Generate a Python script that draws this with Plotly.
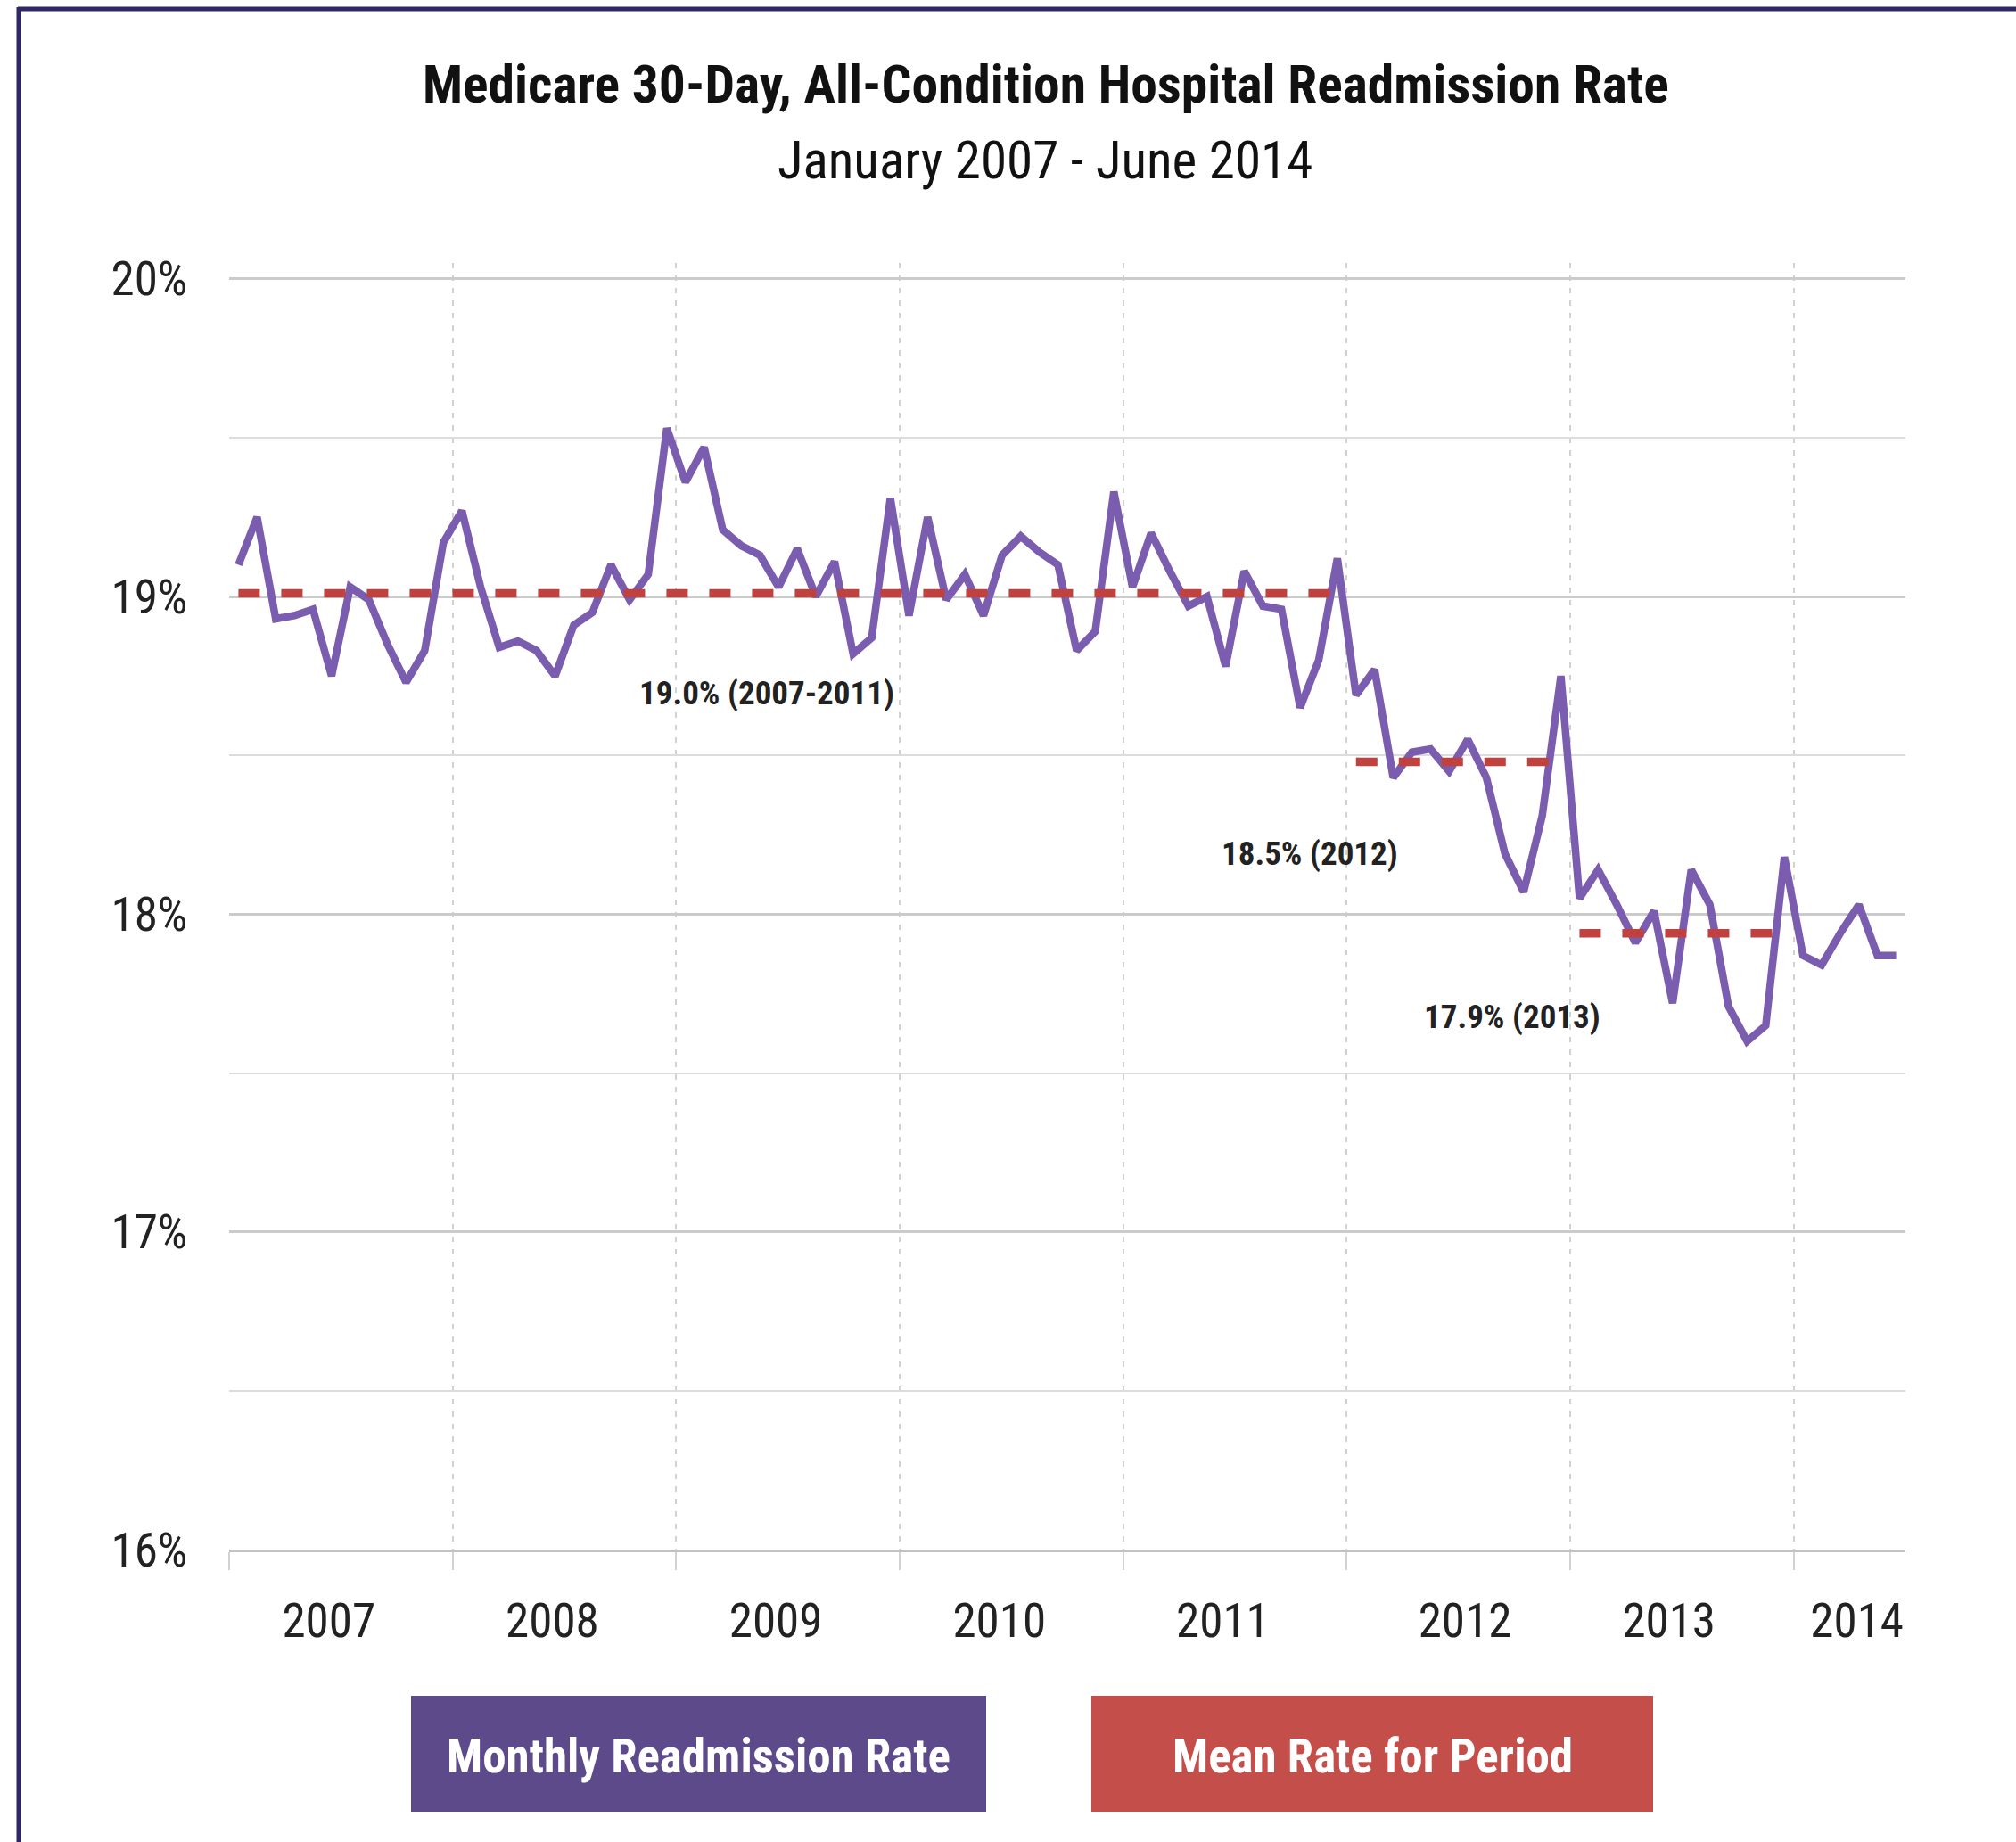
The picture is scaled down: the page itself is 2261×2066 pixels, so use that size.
import plotly.graph_objects as go

# ---------------- data ----------------
month_names = ["Jan", "Feb", "Mar", "Apr", "May", "Jun",
               "Jul", "Aug", "Sep", "Oct", "Nov", "Dec"]
years = [2007, 2008, 2009, 2010, 2011, 2012, 2013, 2014]

# Monthly 30-day all-condition readmission rate (%), Jan 2007 - Jun 2014
monthly_rate = [
    19.10, 19.25, 18.93, 18.94, 18.96, 18.75, 19.03, 18.99, 18.85, 18.73, 18.83, 19.17,  # 2007
    19.27, 19.03, 18.84, 18.86, 18.83, 18.75, 18.91, 18.95, 19.10, 18.99, 19.07, 19.53,  # 2008
    19.36, 19.47, 19.21, 19.16, 19.13, 19.03, 19.15, 19.00, 19.11, 18.82, 18.87, 19.31,  # 2009
    18.94, 19.25, 18.99, 19.07, 18.94, 19.13, 19.19, 19.14, 19.10, 18.83, 18.89, 19.33,  # 2010
    19.03, 19.20, 19.08, 18.97, 19.00, 18.78, 19.08, 18.97, 18.96, 18.65, 18.80, 19.12,  # 2011
    18.69, 18.77, 18.43, 18.51, 18.52, 18.45, 18.55, 18.43, 18.19, 18.07, 18.31, 18.75,  # 2012
    18.05, 18.14, 18.03, 17.91, 18.01, 17.72, 18.14, 18.03, 17.71, 17.60, 17.65, 18.18,  # 2013
    17.87, 17.84, 17.94, 18.03, 17.87, 17.87,                                            # 2014
]
month_labels = [f"{m} {y}" for y in years for m in month_names][:len(monthly_rate)]

period_names = ["2007-2011", "2012", "2013"]
period_means = [19.01, 18.48, 17.94]
period_first_month = [0, 60, 72]    # index of first month in period
period_last_month = [59, 71, 83]    # index of last month in period
period_labels = ["19.0% (2007-2011)", "18.5% (2012)", "17.9% (2013)"]

year_labels = ["2007", "2008", "2009", "2010", "2011", "2012", "2013", "2014"]
y_tick_values = [16, 17, 18, 19, 20]
y_tick_labels = ["16%", "17%", "18%", "19%", "20%"]

legend_labels = ["Monthly Readmission Rate", "Mean Rate for Period"]

# ---------------- styling / layout ----------------
W, H = 2261, 2066
L, R, T, B = 257, 124, 295, 328

def px_x(px):
    return (px - L) / (W - L - R)

def px_y(py):
    return (H - B - py) / (H - T - B)

FONT = "'Liberation Sans Narrow', 'Arial Narrow', 'Roboto Condensed', 'DejaVu Sans Condensed', 'Liberation Sans', sans-serif"
PURPLE = "#7a5dae"
RED = "#c0413d"
FRAME = "#2e2966"

x_month = [i + 0.5 for i in range(len(monthly_rate))]

fig = go.Figure()
fig.add_trace(go.Scatter(
    x=x_month, y=monthly_rate, mode="lines", text=month_labels,
    line=dict(color=PURPLE, width=8.5), name=legend_labels[0],
    hovertemplate="%{text}: %{y:.2f}%<extra></extra>",
))
for name, m, a, b in zip(period_names, period_means, period_first_month, period_last_month):
    xs = [x_month[a], x_month[b]]
    fig.add_trace(go.Scatter(
        x=xs, y=[m, m], mode="lines",
        line=dict(color=RED, width=9.5, dash="24px,24px"),
        name=name, hoverinfo="skip",
    ))

# label positions for period means (data coords)
label_pos = [(28.87, 18.695), (58.03, 18.19), (68.88, 17.676)]
annotations = []
for txt, (lx, ly) in zip(period_labels, label_pos):
    annotations.append(dict(x=lx, y=ly, xref="x", yref="y", text=f"<b>{txt}</b>",
                            showarrow=False, font=dict(family=FONT, size=37, color="#222222"),
                            xanchor="center", yanchor="middle"))

# title and subtitle
annotations.append(dict(x=px_x(1173), y=px_y(95), xref="paper", yref="paper",
                        text="<b>Medicare 30-Day, All-Condition Hospital Readmission Rate</b>",
                        showarrow=False, font=dict(family=FONT, size=59.5, color="#111111"),
                        xanchor="center", yanchor="middle"))
annotations.append(dict(x=px_x(1172), y=px_y(180), xref="paper", yref="paper",
                        text="January 2007 - June 2014",
                        showarrow=False, font=dict(family=FONT, size=59, color="#111111"),
                        xanchor="center", yanchor="middle"))

# legend boxes
shapes = []
legend_boxes = [(461, 1106, "#5d4a8a"), (1224, 1854, "#c44e4a")]
for (x0, x1, col), txt in zip(legend_boxes, legend_labels):
    shapes.append(dict(type="rect", xref="paper", yref="paper",
                       x0=px_x(x0), x1=px_x(x1), y0=px_y(2032), y1=px_y(1902),
                       fillcolor=col, line=dict(width=0), layer="above"))
    annotations.append(dict(x=px_x((x0 + x1) / 2), y=px_y(1970), xref="paper", yref="paper",
                            text=f"<b>{txt}</b>", showarrow=False,
                            font=dict(family=FONT, size=53, color="white"),
                            xanchor="center", yanchor="middle"))

# frame (top + left)
shapes.append(dict(type="line", xref="paper", yref="paper",
                   x0=px_x(20), x1=px_x(W + 5), y0=px_y(10), y1=px_y(10),
                   line=dict(color=FRAME, width=5), layer="above"))
shapes.append(dict(type="line", xref="paper", yref="paper",
                   x0=px_x(21), x1=px_x(21), y0=px_y(8), y1=px_y(H + 5),
                   line=dict(color=FRAME, width=5), layer="above"))

year_tick_pos = [5.35, 17.35, 29.35, 41.35, 53.35, 66.35, 77.3, 87.4]

fig.update_layout(
    width=W, height=H,
    margin=dict(l=L, r=R, t=T, b=B, pad=0),
    paper_bgcolor="white", plot_bgcolor="white",
    showlegend=False,
    font=dict(family=FONT, color="#222222"),
    annotations=annotations,
    shapes=shapes,
    xaxis=dict(
        range=[0, 90], tickmode="array", tickvals=year_tick_pos, ticktext=year_labels,
        showgrid=False, zeroline=False,
        ticks="outside", ticklen=31, tickcolor="rgba(0,0,0,0)",
        tickfont=dict(family=FONT, size=53, color="#222222"),
        showline=True, linecolor="#c2c2c2", linewidth=3,
        minor=dict(tickmode="array", tickvals=[0, 12, 24, 36, 48, 60, 72, 84],
                   showgrid=True, gridcolor="#d2d2d2", gridwidth=2, griddash="6px,8px",
                   ticks="outside", ticklen=20, tickcolor="#d2d2d2", tickwidth=2),
        fixedrange=True,
    ),
    yaxis=dict(
        range=[16, 20.05], tickmode="array", tickvals=y_tick_values, ticktext=y_tick_labels,
        showgrid=True, gridcolor="#cbcbcb", gridwidth=3, zeroline=False,
        ticks="outside", ticklen=35, tickcolor="rgba(0,0,0,0)",
        tickfont=dict(family=FONT, size=53, color="#222222"),
        minor=dict(dtick=0.5, tick0=16, showgrid=True, gridcolor="#dcdcdc", gridwidth=2),
        fixedrange=True,
    ),
)

fig.write_html("out.html")
